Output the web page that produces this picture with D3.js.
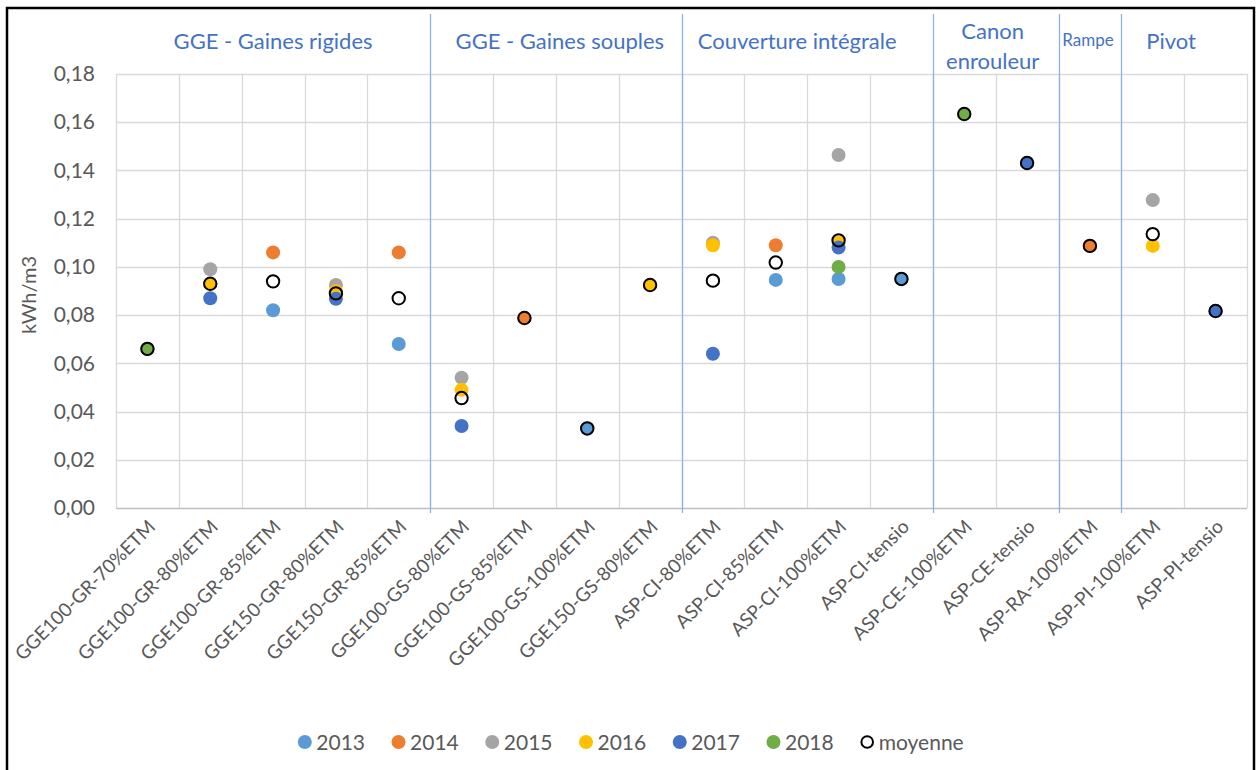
<!DOCTYPE html>
<html>
<head>
<meta charset="utf-8">
<script src="https://cdn.jsdelivr.net/npm/d3@7"></script>
<style>
html,body{margin:0;padding:0;background:#fff;}
svg{display:block;font-family:Lato, "Open Sans", sans-serif;}
</style>
</head>
<body>
<svg id="chart" width="1258" height="770"></svg>
<script>
const categories = ["GGE100-GR-70%ETM","GGE100-GR-80%ETM","GGE100-GR-85%ETM","GGE150-GR-80%ETM","GGE150-GR-85%ETM",
  "GGE100-GS-80%ETM","GGE100-GS-85%ETM","GGE100-GS-100%ETM","GGE150-GS-80%ETM",
  "ASP-CI-80%ETM","ASP-CI-85%ETM","ASP-CI-100%ETM","ASP-CI-tensio",
  "ASP-CE-100%ETM","ASP-CE-tensio","ASP-RA-100%ETM","ASP-PI-100%ETM","ASP-PI-tensio"];

const seriesNames = ["2013","2014","2015","2016","2017","2018"];
const seriesColors = ["#5B9BD5","#ED7D31","#A5A5A5","#FFC000","#4472C4","#70AD47"];

const v2013 = [null,null,0.082,null,0.068,null,null,0.033,null,null,0.0946,0.095,0.095,null,null,null,null,null];
const v2014 = [null,null,0.106,null,0.106,null,0.0788,null,null,null,0.109,null,null,null,null,0.1087,null,null];
const v2015 = [null,0.099,null,0.0925,null,0.054,null,null,null,0.110,null,0.1464,null,null,null,null,0.1277,null];
const v2016 = [null,0.093,null,0.090,null,0.049,null,null,0.0925,0.109,null,0.110,null,null,null,null,0.1087,null];
const v2017 = [null,0.087,null,0.0868,null,0.034,null,null,null,0.064,null,0.108,null,null,0.1431,null,null,0.0817];
const v2018 = [0.066,null,null,null,null,null,null,null,null,null,null,0.100,null,0.1634,null,null,null,null];
const moyenne = [0.066,0.093,0.094,0.089,0.087,0.0456,0.0788,0.033,0.0925,0.0943,0.1018,0.111,0.095,0.1634,0.1431,0.1087,0.1136,0.0817];

const groupLabels = [["GGE - Gaines rigides"],["GGE - Gaines souples"],["Couverture intégrale"],["Canon","enrouleur"],["Rampe"],["Pivot"]];
const groupStart = [0,5,9,13,15,16];
const groupEnd   = [4,8,12,14,15,17];

const yTicks = [0,0.02,0.04,0.06,0.08,0.10,0.12,0.14,0.16,0.18];
const yTitle = "kWh/m3";
const moyenneName = "moyenne";

const allSeries = [v2013,v2014,v2015,v2016,v2017,v2018];

const svg = d3.select("#chart");
const plot = {left:116, right:1247, top:74, bottom:508};

// outer border
svg.append("rect").attr("x",7).attr("y",8).attr("width",1247).attr("height",775)
  .attr("fill","#fff").attr("stroke","#000").attr("stroke-width",2.5);

const x = d3.scaleBand().domain(categories).range([plot.left, plot.right]).paddingInner(0).paddingOuter(0);
const y = d3.scaleLinear().domain([0,0.18]).range([plot.bottom, plot.top]);

const fr = d3.formatLocale({decimal:",", thousands:" ", grouping:[3], currency:["","€"]});
const fmt = fr.format(".2f");

// horizontal gridlines
svg.append("g").selectAll("line").data(yTicks).join("line")
  .attr("x1",plot.left).attr("x2",plot.right)
  .attr("y1",d=>Math.round(y(d))+0.5).attr("y2",d=>Math.round(y(d))+0.5)
  .attr("stroke",d=>d===0?"#BFBFBF":"#D9D9D9").attr("stroke-width",1.3);

// vertical gridlines at category boundaries
const bounds = categories.map(c=>x(c)).concat([x(categories[categories.length-1])+x.bandwidth()]);
svg.append("g").selectAll("line").data(bounds).join("line")
  .attr("x1",d=>Math.round(d)+0.5).attr("x2",d=>Math.round(d)+0.5)
  .attr("y1",plot.top).attr("y2",plot.bottom)
  .attr("stroke","#D9D9D9").attr("stroke-width",1.3);

// group separators
const sepX = groupStart.slice(1).map(i=>x(categories[i]));
svg.append("g").selectAll("line").data(sepX).join("line")
  .attr("x1",d=>Math.round(d)+0.5).attr("x2",d=>Math.round(d)+0.5)
  .attr("y1",14).attr("y2",plot.bottom+5)
  .attr("stroke","#8DB3E2").attr("stroke-width",1.3);

// y axis labels
const yAxis = d3.axisLeft(y).tickValues(yTicks).tickFormat(fmt).tickSize(0).tickPadding(21);
const gy = svg.append("g").attr("transform",`translate(${plot.left},0)`).call(yAxis);
gy.select(".domain").remove();
gy.selectAll("text").attr("font-size",21).attr("fill","#595959").attr("font-family","Lato");

// y title
svg.append("text").attr("transform",`translate(36,${(plot.top+plot.bottom)/2+4}) rotate(-90)`)
  .attr("text-anchor","middle").attr("font-size",20).attr("fill","#595959").text(yTitle);

// x axis labels
const xAxis = d3.axisBottom(x).tickSize(0).tickPadding(0);
const gx = svg.append("g").attr("transform",`translate(0,${plot.bottom})`).call(xAxis);
gx.select(".domain").remove();
gx.selectAll("text")
  .attr("font-size",19).attr("fill","#595959").attr("font-family","Lato")
  .attr("text-anchor","end").attr("dy",null).attr("y",0)
  .attr("transform","translate(9,20) rotate(-45)");

// group labels
const groupOffset = [0,4,-10,-3,-2,-13];
groupLabels.forEach((lines,i)=>{
  const x0 = x(categories[groupStart[i]]);
  const x1 = x(categories[groupEnd[i]]) + x.bandwidth();
  const cx = (x0+x1)/2 + groupOffset[i];
  const small = lines[0]==="Rampe";
  const t = svg.append("text").attr("text-anchor","middle").attr("fill","#4472C4")
    .attr("font-size",small?17:22);
  if(lines.length===1){
    t.append("tspan").attr("x",cx).attr("y",small?46:49).text(lines[0]);
  } else {
    lines.forEach((l,j)=>t.append("tspan").attr("x",cx).attr("y",39+j*30).text(l));
  }
});

// points
const R = 7;
allSeries.forEach((vals,si)=>{
  svg.append("g").selectAll("circle")
    .data(vals.map((v,i)=>({v,c:categories[i]})).filter(d=>d.v!==null))
    .join("circle")
    .attr("cx",d=>x(d.c)+x.bandwidth()/2)
    .attr("cy",d=>y(d.v))
    .attr("r",R)
    .attr("fill",seriesColors[si]);
});
svg.append("g").selectAll("circle")
  .data(moyenne.map((v,i)=>({v,c:categories[i]})).filter(d=>d.v!==null))
  .join("circle")
  .attr("cx",d=>x(d.c)+x.bandwidth()/2)
  .attr("cy",d=>y(d.v))
  .attr("r",R-0.8)
  .attr("fill","none").attr("stroke","#000").attr("stroke-width",2);

// legend
const legendItems = seriesNames.map((n,i)=>({name:n,color:seriesColors[i],avg:false}))
  .concat([{name:moyenneName,color:"#fff",avg:true}]);
const lg = svg.append("g");
let cursor = 0;
const gap = 27;
legendItems.forEach(it=>{
  const g = lg.append("g").attr("transform",`translate(${cursor},0)`);
  g.append("circle").attr("cx",6.5).attr("cy",0).attr("r",it.avg?5.8:7)
    .attr("fill",it.color).attr("stroke",it.avg?"#000":"none").attr("stroke-width",it.avg?2:0);
  const t = g.append("text").attr("x",18).attr("y",7.5).attr("font-size",21).attr("fill","#595959").text(it.name);
  const w = t.node().getComputedTextLength();
  cursor += 18 + w + gap;
});
const totalW = cursor - gap;
lg.attr("transform",`translate(${631 - totalW/2},742)`);
</script>
</body>
</html>
